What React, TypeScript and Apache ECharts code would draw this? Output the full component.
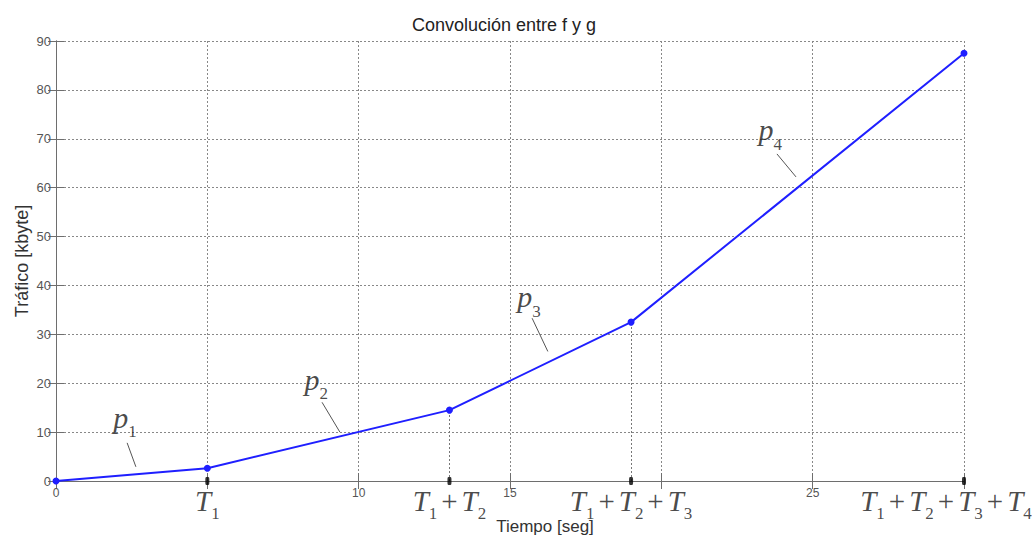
import React, { useEffect, useRef } from "react";
import * as echarts from "echarts";

// Breakpoints of the piecewise-linear convolution result
const timeValues = [0, 5, 13, 19, 30];
const trafficValues = [0, 2.6, 14.5, 32.5, 87.5];

// Labels written under the breakpoints on the time axis
const breakpointLabels = ["T1", "T1+T2", "T1+T2+T3", "T1+T2+T3+T4"];

// Numeric tick labels shown on the time axis
const timeTickLabels = [0, 10, 15, 25];

// Slope annotations p1..p4: label anchor and leader line ends (data units)
const slopeNames = ["p1", "p2", "p3", "p4"];
const slopeLabelX = [2.28, 8.6, 15.63, 23.6];
const slopeLabelY = [11.4, 19.2, 36.1, 70.2];
const leaderStart = [
  [2.35, 7.8],
  [8.79, 16.1],
  [15.73, 33.3],
  [23.82, 66.9],
];
const leaderEnd = [
  [2.64, 2.9],
  [9.38, 10.0],
  [16.25, 26.5],
  [24.45, 62.2],
];

const sansFont = "'Liberation Sans', Arial, Helvetica, sans-serif";
const serifFont = "'Liberation Serif', 'Times New Roman', serif";
const axisGray = "#6e6e6e";
const labelGray = "#555";

const toRich = (s: string) =>
  s
    .split("+")
    .map((part) => part.replace(/([A-Za-z])(\d)/, "{v|$1}{s|$2}"))
    .join("{o|+}");

const mathRich = (size: number, subSize: number, drop: number) => ({
  v: {
    fontFamily: serifFont,
    fontStyle: "italic",
    fontSize: size,
    lineHeight: size,
    color: "#1a1a1a",
    verticalAlign: "bottom",
    padding: [0, 0, drop, 0],
  },
  s: {
    fontFamily: serifFont,
    fontSize: subSize,
    lineHeight: subSize,
    color: "#1a1a1a",
    verticalAlign: "bottom",
  },
  o: {
    fontFamily: serifFont,
    fontSize: size,
    lineHeight: size,
    color: "#1a1a1a",
    verticalAlign: "bottom",
    padding: [0, 4, drop, 4],
  },
});

export default function App() {
  const ref = useRef<HTMLDivElement>(null);

  useEffect(() => {
    document.body.style.margin = "0";
    if (!ref.current) return;
    const chart = echarts.init(ref.current, undefined, { renderer: "svg" });

    const linePoints = timeValues.map((t, i) => [t, trafficValues[i]]);
    const lastIdx = timeValues.length - 1;

    // dotted drop lines from breakpoints that are not on a grid line
    const dropLines = timeValues
      .map((t, i) => ({ t, v: trafficValues[i] }))
      .filter((p) => p.t % 5 !== 0)
      .map((p) => [{ coord: [p.t, 0] }, { coord: [p.t, p.v] }]);

    const leaders = leaderStart.map((s, i) => [
      { coord: s },
      { coord: leaderEnd[i] },
    ]);

    const option: any = {
      animation: false,
      title: {
        text: "Convolución entre f y g",
        left: 407,
        top: 11,
        textStyle: {
          fontFamily: sansFont,
          fontSize: 18,
          fontWeight: "normal",
          color: "#222",
        },
      },
      grid: { left: 56, right: 71, top: 41, bottom: 54, outerBoundsMode: "none" },
      xAxis: [
        {
          type: "value",
          min: 0,
          max: 30,
          interval: 5,
          position: "bottom",
          name: "Tiempo [seg]",
          nameLocation: "middle",
          nameGap: 37,
          nameMoveOverlap: false,
          nameTextStyle: {
            fontFamily: sansFont,
            fontSize: 17,
            color: "#333",
            padding: [0, 0, 0, 70],
          },
          axisLine: { show: true, lineStyle: { color: axisGray, width: 1 } },
          axisTick: { show: true, inside: true, length: 8, lineStyle: { color: axisGray } },
          axisLabel: {
            customValues: timeTickLabels,
            fontFamily: sansFont,
            fontSize: 12,
            color: labelGray,
            margin: 6,
          },
          splitLine: {
            show: true,
            lineStyle: { color: "#888", type: [2, 2], width: 1 },
          },
        },
        {
          type: "value",
          min: 0,
          max: 30,
          interval: 5,
          position: "top",
          axisLine: { show: true, lineStyle: { color: axisGray, width: 1 } },
          axisTick: { show: true, inside: true, length: 8, lineStyle: { color: axisGray } },
          axisLabel: { show: false },
          splitLine: { show: false },
        },
      ],
      yAxis: [
        {
          type: "value",
          min: 0,
          max: 90,
          interval: 10,
          position: "left",
          name: "Tráfico [kbyte]",
          nameLocation: "middle",
          nameGap: 25,
          nameMoveOverlap: false,
          nameTextStyle: { fontFamily: sansFont, fontSize: 18, color: "#333" },
          axisLine: { show: true, lineStyle: { color: axisGray, width: 1 } },
          axisTick: { show: true, inside: true, length: 8, lineStyle: { color: axisGray } },
          axisLabel: { fontFamily: sansFont, fontSize: 13, color: labelGray, margin: 5 },
          splitLine: {
            show: true,
            lineStyle: { color: "#888", type: [2, 2], width: 1 },
          },
        },
        {
          type: "value",
          min: 0,
          max: 90,
          interval: 10,
          position: "right",
          axisLine: { show: true, lineStyle: { color: axisGray, width: 1 } },
          axisTick: { show: true, inside: true, length: 8, lineStyle: { color: axisGray } },
          axisLabel: { show: false },
          splitLine: { show: false },
        },
      ],
      series: [
        {
          type: "line",
          name: "convolución",
          data: linePoints,
          symbol: "circle",
          symbolSize: 7,
          itemStyle: { color: "#1f1fff" },
          lineStyle: { color: "#1f1fff", width: 2 },
          z: 5,
          markLine: {
            silent: true,
            symbol: "none",
            label: { show: false },
            lineStyle: { color: "#777", type: [2, 2], width: 1 },
            data: dropLines,
          },
        },
        {
          // breakpoint markers on the time axis with their sum labels
          type: "scatter",
          name: "breakpoints",
          data: timeValues.slice(1).map((t, i) => {
            const item: any = { value: [t, 0] };
            if (i + 1 === lastIdx) item.label = { offset: [-18, 0] };
            return item;
          }),
          symbol: "roundRect",
          symbolSize: [4, 8],
          itemStyle: { color: "#000" },
          z: 6,
          label: {
            show: true,
            position: "bottom",
            distance: 8,
            formatter: (p: any) => toRich(breakpointLabels[p.dataIndex]),
            rich: mathRich(29, 17, 7),
          },
        },
        {
          // slope annotations with leader lines
          type: "scatter",
          name: "pendientes",
          data: slopeNames.map((_, i) => [slopeLabelX[i], slopeLabelY[i]]),
          symbol: "circle",
          symbolSize: 1,
          itemStyle: { color: "rgba(0,0,0,0)" },
          z: 6,
          label: {
            show: true,
            position: "inside",
            formatter: (p: any) => toRich(slopeNames[p.dataIndex]),
            rich: mathRich(30, 17, 8),
          },
          markLine: {
            silent: true,
            symbol: "none",
            label: { show: false },
            lineStyle: { color: "#555", type: "solid", width: 1 },
            data: leaders,
          },
        },
      ],
    };

    chart.setOption(option);
    return () => chart.dispose();
  }, []);

  return <div ref={ref} style={{ width: 1035, height: 535 }} />;
}
